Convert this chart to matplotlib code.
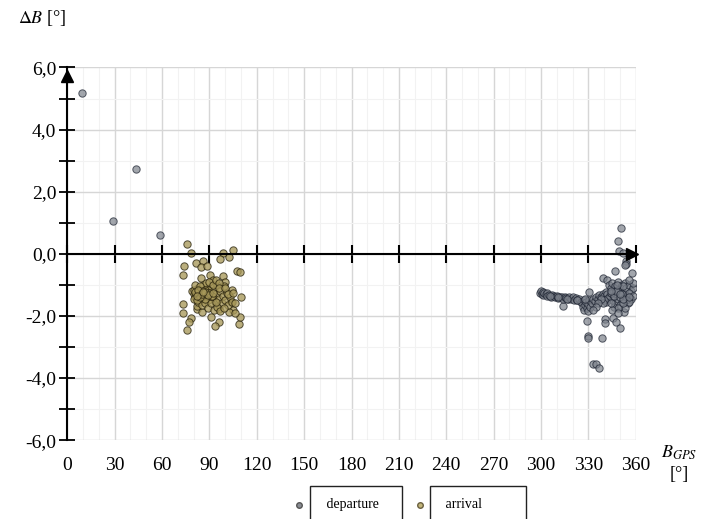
import matplotlib
matplotlib.use('Agg')
import matplotlib.pyplot as plt
from matplotlib.lines import Line2D
from matplotlib.ticker import MultipleLocator

# departure points: B_GPS [deg], dB [deg]
dep_x = [9.3, 29.1, 43.8, 58.7,
         350.6, 349.0, 349.4, 351.9, 354.1, 353.6, 353.2, 346.8, 357.8, 339.2, 341.8,
         313.9, 329.1, 340.5, 340.5, 345.4, 347.3, 349.8, 352.3, 329.6, 329.9, 338.4,
         332.9, 334.6, 336.7, 330.4,
         299.5, 300.0, 300.5, 301.0, 301.5, 302.0, 303.0, 303.5, 304.0, 305.0, 306.0,
         307.0, 308.0, 309.0, 310.0, 311.0, 312.0, 313.0, 314.0, 315.0, 316.0, 317.0,
         318.0, 319.0, 320.0, 321.0, 322.0, 323.0, 324.0, 325.0, 326.0, 326.5, 327.0,
         327.5, 328.0, 328.5, 329.0, 329.5, 330.0, 330.5, 331.0, 332.0, 333.0, 334.0,
         335.0, 336.0, 337.0, 338.0, 339.0, 340.0, 341.0, 342.0,
         343.0, 344.0, 345.0, 346.0, 347.0, 348.0, 349.0, 350.0, 351.0, 352.0, 353.0,
         354.0, 355.0, 356.0, 357.0, 358.0, 343.0, 345.0, 347.0, 349.0, 351.0, 353.0,
         355.0, 357.0, 344.0, 346.0, 348.0, 350.0, 352.0, 354.0, 356.0, 358.0, 342.0,
         341.0, 346.0, 350.0, 353.0, 356.0, 358.0, 349.0, 345.0, 352.0, 340.0, 339.0,
         338.0, 336.0, 335.0, 333.0, 347.5, 351.5, 355.5, 344.5, 348.5,
         305.5, 310.5, 316.5, 322.5, 328.0, 344.0, 348.0, 352.0, 356.0, 350.0]
dep_y = [5.19, 1.05, 2.74, 0.59,
         0.84, 0.41, 0.08, 0.02, -0.22, -0.34, -0.35, -0.54, -0.62, -0.77, -0.84,
         -1.69, -2.15, -2.10, -2.23, -2.08, -2.21, -2.38, -1.89, -2.66, -2.72, -2.72,
         -3.54, -3.56, -3.69, -1.23,
         -1.25, -1.20, -1.28, -1.32, -1.22, -1.27, -1.30, -1.26, -1.35, -1.32, -1.38,
         -1.33, -1.36, -1.40, -1.35, -1.42, -1.38, -1.40, -1.45, -1.38, -1.42, -1.47,
         -1.40, -1.44, -1.38, -1.48, -1.42, -1.50, -1.45, -1.55, -1.60, -1.70, -1.50,
         -1.80, -1.65, -1.55, -1.75, -1.85, -1.62, -1.50, -1.70, -1.58, -1.45, -1.52,
         -1.38, -1.45, -1.32, -1.40, -1.28, -1.35, -1.22, -1.30,
         -1.00, -1.10, -0.95, -1.20, -1.05, -1.30, -0.90, -1.15, -1.00, -1.25, -0.95,
         -1.10, -1.35, -1.00, -1.20, -1.10, -1.40, -1.50, -1.60, -1.45, -1.55, -1.40,
         -1.60, -1.45, -1.25, -1.35, -1.15, -1.40, -1.05, -1.50, -1.25, -1.35, -1.45,
         -1.55, -1.70, -1.65, -1.75, -1.55, -0.95, -1.75, -1.80, -1.60, -1.50, -1.60,
         -1.45, -1.60, -1.70, -1.80, -1.20, -1.30, -0.85, -1.60, -1.90,
         -1.36, -1.40, -1.46, -1.50, -1.45, -1.20, -1.00, -1.45, -1.40, -1.30]

# arrival points
arr_x = [75.6, 78.5, 98.7, 96.6, 102.2, 104.7, 73.9, 73.0, 81.5, 86.1, 84.4, 88.6,
         107.2, 109.3, 90.3, 98.7, 84.4, 92.4, 99.6, 110.1, 73.0, 73.0, 78.5, 76.8,
         75.6, 90.8, 95.8, 93.7, 108.5, 109.3, 105.1, 103.4, 81.9, 85.3, 96.2, 102.2,
         106.3, 81.9,
         79.0, 80.0, 80.5, 81.0, 82.0, 82.5, 83.0, 84.0, 84.5, 85.0, 86.0, 86.5, 87.0,
         88.0, 88.5, 89.0, 90.0, 90.5, 91.0, 92.0, 93.0, 93.5, 94.0, 95.0, 96.0, 97.0,
         98.0, 98.5, 99.0, 100.0, 101.0, 102.0, 103.0, 104.0, 83.0, 85.0, 87.0, 89.0,
         91.0, 93.0, 95.0, 97.0, 99.0, 86.0, 88.0, 90.0, 92.0, 94.0, 96.0, 81.0, 84.0,
         80.0, 82.0, 87.0, 89.0, 91.0, 94.0, 96.0, 100.0, 102.0, 104.0, 106.0, 105.0,
         83.5, 85.5, 87.5, 89.5, 91.5, 84.0, 86.0, 88.0, 90.0,
         81.0, 83.0, 85.0, 87.0, 89.0, 92.0, 82.0, 86.0]
arr_y = [0.32, 0.02, 0.02, -0.17, -0.11, 0.11, -0.39, -0.67, -0.30, -0.22, -0.43, -0.39,
         -0.54, -0.60, -0.67, -0.71, -0.77, -0.86, -0.92, -1.39, -1.63, -1.91, -2.06, -2.19,
         -2.47, -2.02, -2.21, -2.34, -2.27, -2.02, -1.82, -1.54, -1.78, -1.86, -1.78, -1.86,
         -1.91, -1.67,
         -1.20, -1.30, -1.15, -1.40, -1.25, -1.10, -1.35, -1.20, -1.45, -1.30, -1.15, -1.40,
         -1.25, -1.35, -1.10, -1.50, -1.20, -1.30, -1.05, -1.40, -1.15, -1.55, -1.30, -1.00,
         -1.45, -1.20, -1.60, -1.35, -1.05, -1.50, -1.25, -1.65, -1.40, -1.15, -1.55, -1.65,
         -1.60, -1.75, -1.60, -1.80, -1.70, -1.85, -1.75, -1.00, -0.95, -0.90, -1.00, -0.85,
         -0.95, -1.00, -1.05, -1.45, -1.50, -1.45, -1.15, -1.35, -1.55, -1.10, -1.10, -1.30,
         -1.55, -1.60, -1.25, -1.20, -1.30, -1.15, -1.25, -1.35, -1.40, -1.20, -1.30, -1.25,
         -1.22, -1.18, -1.28, -1.22, -1.32, -1.25, -1.35, -1.22]

x_ticks = [0, 30, 60, 90, 120, 150, 180, 210, 240, 270, 300, 330, 360]
y_ticks = [-6, -4, -2, 0, 2, 4, 6]
y_labels = ['-6,0', '-4,0', '-2,0', '0,0', '2,0', '4,0', '6,0']

serif = 'Liberation Serif'
plt.rcParams['mathtext.fontset'] = 'stix'

fig = plt.figure(figsize=(7.16, 5.19), dpi=100)
ax = fig.add_axes([0.094, 0.152, 0.794, 0.718])
ax.set_xlim(0, 360)
ax.set_ylim(-6, 6)

# grid
ax.xaxis.set_minor_locator(MultipleLocator(10))
ax.yaxis.set_minor_locator(MultipleLocator(1))
ax.grid(which='major', color='#d6d6d6', lw=1.0, zorder=0)
ax.grid(which='minor', color='#f2f2f2', lw=0.8, zorder=0)

# points
ax.scatter(dep_x, dep_y, s=28, c='#7f848d', edgecolors='#1c2230', linewidths=0.7,
           alpha=0.72, zorder=3)
ax.scatter(arr_x, arr_y, s=28, c='#a8995a', edgecolors='#2a240e', linewidths=0.7,
           alpha=0.78, zorder=3)

# axes: left spine at x=0, bottom spine moved to y=0
for s in ['top', 'right']:
    ax.spines[s].set_visible(False)
ax.spines['left'].set_linewidth(1.5)
ax.spines['left'].set_zorder(5)
ax.spines['bottom'].set_position(('data', 0))
ax.spines['bottom'].set_linewidth(1.5)
ax.spines['bottom'].set_zorder(5)

ax.set_xticks(x_ticks)
ax.tick_params(axis='x', which='major', direction='inout', length=13, width=1.5,
               labelbottom=False)
ax.tick_params(axis='x', which='minor', length=0)
ax.set_yticks(y_ticks)
ax.set_yticklabels(y_labels, fontsize=14, family=serif)
ax.tick_params(axis='y', which='both', direction='inout', length=12, width=1.3, pad=2)

# bottom tick labels via a secondary axis at the bottom of the plot
sec = ax.secondary_xaxis(0)
sec.set_xticks(x_ticks)
sec.set_xticklabels([str(v) for v in x_ticks], fontsize=14, family=serif)
sec.tick_params(length=0, pad=12)
sec.spines['bottom'].set_visible(False)

# arrow heads
ax.plot(0, 5.72, '^', color='k', ms=9, clip_on=False, zorder=6)
ax.plot(357.5, 0, '>', color='k', ms=9, clip_on=False, zorder=6)

# axis titles
fig.text(0.025, 0.965, r'$\mathit{\Delta B}$ [°]', fontsize=13, family=serif, va='center')
fig.text(0.948, 0.128, r'$B_{GPS}$', fontsize=13, family=serif, ha='center', va='center')
fig.text(0.948, 0.085, '[°]', fontsize=13, family=serif, ha='center', va='center')

# legend with boxed labels
fig.add_artist(Line2D([0.418], [0.027], marker='o', ms=4, color='#8a8d93',
                      markeredgecolor='#555', lw=0, transform=fig.transFigure))
fig.add_artist(Line2D([0.587], [0.027], marker='o', ms=4, color='#c2b57a',
                      markeredgecolor='#6a6040', lw=0, transform=fig.transFigure))
fig.text(0.451, 0.027, ' departure   ', fontsize=10, family=serif, va='center',
         bbox=dict(boxstyle='square,pad=0.9', fc='white', ec='#222', lw=1.0))
fig.text(0.618, 0.027, ' arrival         ', fontsize=10, family=serif, va='center',
         bbox=dict(boxstyle='square,pad=0.9', fc='white', ec='#222', lw=1.0))

plt.savefig('out.png', dpi=100)
